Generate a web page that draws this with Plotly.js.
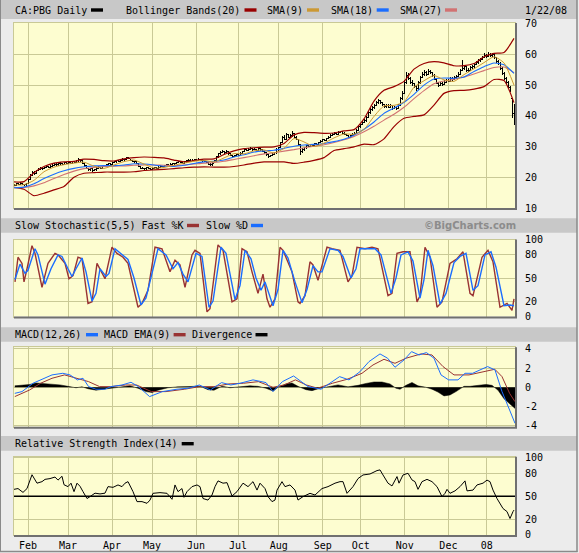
<!DOCTYPE html>
<html><head><meta charset="utf-8">
<script src="https://cdn.plot.ly/plotly-3.0.1.min.js"></script>
<style>html,body{margin:0;padding:0;background:#ececec;}#chart{width:579px;height:553px;}
.ohlclayer path,.trace.ohlc path{shape-rendering:crispEdges;}</style>
</head><body><div id="chart"></div>
<script>
// ---------- DATA (session index = trading day, 0 = 23 Jan 2007) ----------
const monthTicks  = [7, 27, 49, 69, 91, 112, 132.4, 154.4, 173.4, 195.4, 217.2, 236.4];
const monthLabels = ['Feb','Mar','Apr','May','Jun','Jul','Aug','Sep','Oct','Nov','Dec','08'];
const priceTicks = [10,20,30,40,50,60,70];
const oscTicks = [0,20,50,80,100];
const macdTicks = [-4,-2,0,2,4];
const macdTickText = ['-4','-2','0','2','4'];
const rsiRefLevel = 50;

const openP = [17.2,17.4,17.9,17.6,18.0,17.7,17.5,18.0,19.3,20.7,
21.5,21.3,22.1,22.5,23.0,22.8,23.1,23.5,23.3,23.6,
23.9,24.3,24.0,24.4,24.6,24.2,24.7,24.5,24.9,24.6,
25.0,24.8,25.3,25.9,25.3,24.6,23.7,22.9,22.4,22.8,
22.2,22.5,22.9,23.3,23.0,23.4,23.7,24.0,24.4,24.2,
24.7,25.0,25.4,25.2,25.6,25.9,25.7,26.3,26.0,25.6,
25.2,25.0,24.4,23.6,23.0,22.9,22.7,23.1,22.8,22.6,
23.0,23.2,22.9,23.3,23.6,23.4,23.7,24.1,23.9,24.2,
24.5,24.4,24.8,25.1,24.8,24.6,25.0,25.3,25.6,25.2,
25.5,25.8,25.4,25.9,25.6,25.3,25.1,24.7,24.3,24.0,
24.6,25.3,26.6,27.6,28.2,28.5,28.0,28.4,27.7,27.2,
26.9,27.1,27.4,27.2,27.8,28.3,28.9,28.6,29.1,29.4,
29.0,29.2,28.8,29.4,28.9,28.4,27.9,27.3,26.8,27.0,
27.4,27.9,29.0,29.6,31.2,33.0,32.4,33.8,33.1,33.5,
34.2,33.0,32.2,30.6,28.4,28.9,29.6,30.3,30.0,30.6,
30.4,30.9,30.6,31.2,31.8,32.3,32.0,32.6,33.1,33.7,
34.0,34.3,33.9,34.5,34.8,34.4,34.0,33.6,33.1,33.5,
34.0,34.4,35.3,36.4,37.2,37.9,38.4,39.6,41.0,42.1,
42.6,43.4,44.3,45.0,44.2,43.6,42.9,43.5,42.7,43.2,
42.4,42.8,42.3,43.5,45.6,47.4,50.8,53.0,52.2,51.0,
50.4,49.4,48.8,50.7,52.6,53.5,54.2,53.6,54.4,54.0,
53.2,51.9,50.6,49.9,50.5,50.2,51.0,51.6,51.3,52.1,
51.8,52.4,52.9,53.6,54.8,55.4,55.9,54.6,54.9,55.6,
56.0,56.7,57.4,57.9,58.3,59.1,59.7,59.3,60.1,59.6,
59.9,58.9,57.8,57.0,55.3,53.8,52.2,50.9,49.3,45.5,40.6];
const highP = [17.8,18.1,18.0,18.3,18.1,17.9,18.1,19.5,21.0,22.1,
21.9,22.3,22.9,23.5,23.2,23.4,24.0,23.7,23.9,24.3,
24.7,24.5,24.8,25.0,24.8,25.1,24.9,25.4,25.1,25.4,
25.3,25.6,26.3,26.0,25.5,24.8,23.9,23.1,23.1,22.9,
22.8,23.2,23.6,23.5,23.7,24.0,24.3,24.7,24.6,25.0,
25.3,25.7,25.6,25.9,26.2,26.1,26.7,26.5,26.1,25.7,
25.4,25.2,24.6,23.8,23.3,23.1,23.4,23.3,23.0,23.3,
23.5,23.4,23.6,23.9,23.8,24.0,24.4,24.3,24.5,24.8,
24.8,25.1,25.4,25.3,25.0,25.3,25.6,25.9,25.8,25.8,
26.1,26.0,26.2,26.1,25.8,25.5,25.3,24.9,24.6,24.9,
25.6,26.9,27.9,28.6,28.9,28.7,28.8,28.6,27.9,27.4,
27.4,27.7,27.6,28.1,28.6,29.2,29.1,29.5,29.8,29.6,
29.5,29.3,29.7,29.5,29.1,28.6,28.1,27.5,27.4,27.8,
28.3,29.4,30.0,31.6,33.5,33.6,34.3,34.2,34.0,35.1,
34.4,33.3,32.4,30.8,29.4,29.9,30.6,30.6,30.9,30.9,
31.2,31.1,31.5,32.1,32.6,32.5,32.9,33.5,34.1,34.4,
34.7,34.5,34.9,35.2,35.0,34.6,34.2,33.8,33.9,34.4,
34.8,35.7,36.9,37.7,38.4,38.9,40.1,41.5,42.7,43.2,
43.9,44.8,45.6,45.3,44.6,43.9,44.0,43.8,43.7,43.4,
43.3,43.0,44.0,46.2,48.1,51.6,54.2,53.8,52.7,51.6,
50.8,49.9,51.2,53.1,54.2,55.0,54.6,55.1,54.9,54.3,
53.5,52.3,51.0,51.0,50.9,51.5,52.1,52.0,52.6,52.5,
52.8,53.3,54.1,55.3,58.0,56.6,56.2,55.5,56.1,56.6,
57.1,57.8,58.4,58.8,59.6,60.3,60.1,60.7,60.4,60.5,
60.2,59.3,58.3,57.4,55.8,54.3,52.6,51.2,49.8,45.8,43.8];
const lowP = [17.0,17.3,17.4,17.5,17.5,17.2,17.3,17.9,19.1,20.4,
20.9,21.1,21.9,22.3,22.4,22.6,22.9,22.9,23.1,23.3,
23.7,23.7,23.8,24.1,23.9,24.0,24.2,24.3,24.3,24.4,
24.5,24.6,25.1,25.1,24.3,23.5,22.6,22.0,22.2,21.8,
21.9,22.2,22.7,22.8,22.8,23.2,23.5,23.8,23.9,24.0,
24.5,24.8,24.9,25.0,25.4,25.4,25.5,25.8,25.4,25.0,
24.7,24.2,23.4,22.8,22.6,22.4,22.5,22.6,22.3,22.5,
22.8,22.7,22.8,23.1,23.2,23.2,23.6,23.7,23.7,24.0,
24.1,24.2,24.6,24.6,24.3,24.4,24.8,25.1,25.0,25.0,
25.3,25.2,25.3,25.4,25.1,24.9,24.5,24.1,23.7,23.8,
24.5,25.1,26.4,27.3,27.9,27.7,27.8,27.4,26.9,26.5,
26.6,26.9,26.9,27.0,27.6,28.1,28.4,28.4,28.9,28.7,
28.8,28.5,28.6,28.6,28.1,27.6,27.0,26.3,26.5,26.8,
27.2,27.7,28.7,29.4,31.0,32.0,32.2,32.7,32.7,33.2,
32.7,32.0,30.3,27.3,28.0,28.6,29.3,29.7,29.8,30.0,
30.2,30.4,30.4,31.0,31.5,31.7,31.8,32.4,32.9,33.4,
33.8,33.6,33.7,34.3,34.1,33.7,33.3,32.8,32.8,33.3,
33.8,34.1,35.1,36.1,36.9,37.6,38.1,39.3,40.6,41.7,
42.3,43.1,44.0,43.9,43.3,42.5,42.6,42.4,42.4,41.9,
42.1,41.9,42.1,43.3,45.3,47.2,50.4,51.5,50.5,49.6,
48.9,48.0,48.5,50.4,52.3,53.1,53.1,53.3,53.5,52.7,
51.5,50.2,49.4,49.6,49.8,50.0,50.7,51.0,51.0,51.4,
51.5,52.1,52.6,53.3,54.5,55.0,54.1,54.3,54.6,55.3,
55.7,56.4,57.0,57.6,58.0,58.8,58.9,59.0,59.2,59.2,
58.5,57.3,56.6,54.9,53.3,51.8,50.4,48.8,47.6,39.4,37.0];
const closeP = [17.4,17.8,17.6,18.0,17.7,17.4,17.9,19.2,20.6,21.6,
21.2,22.0,22.6,23.1,22.7,23.0,23.6,23.2,23.5,23.9,
24.3,24.0,24.4,24.6,24.2,24.7,24.5,24.9,24.6,25.0,
24.8,25.3,25.9,25.4,24.6,23.7,22.9,22.4,22.8,22.2,
22.5,22.9,23.3,23.0,23.4,23.7,24.0,24.4,24.2,24.7,
25.0,25.4,25.2,25.6,25.9,25.7,26.3,26.0,25.6,25.2,
25.0,24.4,23.6,23.0,22.9,22.7,23.1,22.8,22.6,23.0,
23.2,22.9,23.3,23.6,23.4,23.7,24.1,23.9,24.2,24.5,
24.4,24.8,25.1,24.8,24.6,25.0,25.3,25.6,25.2,25.5,
25.8,25.4,25.9,25.6,25.3,25.1,24.7,24.3,24.0,24.6,
25.3,26.6,27.6,28.2,28.5,28.0,28.4,27.7,27.2,26.9,
27.1,27.4,27.2,27.8,28.3,28.9,28.6,29.1,29.4,29.0,
29.2,28.8,29.4,28.9,28.4,27.9,27.3,26.8,27.0,27.4,
27.9,29.0,29.6,31.2,33.0,32.4,33.8,33.1,33.5,34.2,
33.0,32.4,30.6,28.4,28.9,29.6,30.3,30.0,30.6,30.4,
30.9,30.6,31.2,31.8,32.3,32.0,32.6,33.1,33.7,34.0,
34.3,33.9,34.5,34.8,34.4,34.0,33.6,33.1,33.5,34.0,
34.4,35.3,36.4,37.2,37.9,38.4,39.6,41.0,42.1,42.6,
43.4,44.3,45.0,44.2,43.6,42.9,43.5,42.7,43.2,42.4,
42.8,42.3,43.5,45.6,47.4,50.8,53.0,52.2,51.0,50.4,
49.4,48.8,50.7,52.6,53.5,54.2,53.6,54.4,54.0,53.2,
51.9,50.6,49.9,50.5,50.2,51.0,51.6,51.3,52.1,51.8,
52.4,52.9,53.6,54.8,55.4,55.9,54.6,54.9,55.6,56.0,
56.7,57.4,57.9,58.3,59.1,59.7,59.3,60.1,59.6,59.9,
58.9,57.8,57.0,55.3,53.8,52.2,50.9,49.3,48.2,40.6,42.8];

const avgSessions = [0,5,10,15,20,25,30,35,40,45,50,55,60,65,70,75,80,85,90,95,100,105,110,115,120,125,130,135,140,145,150,155,160,165,170,175,180,185,190,195,200,205,210,215,220,225,230,235,240,245,250];
const bbUpper = [18.5,18.6,21.5,23.5,24.6,25.0,25.2,25.9,25.8,25.4,25.3,26.0,26.4,26.6,26.5,26.3,25.6,25.0,25.4,25.9,26.0,27.4,28.6,29.3,29.6,29.8,29.9,31.0,33.8,34.6,34.5,34.3,34.4,35.1,35.5,39.0,44.8,48.3,49.5,51.2,55.2,57.0,57.6,57.2,56.3,56.3,57.0,59.2,60.3,60.6,65.2];
const bbLower = [16.7,16.1,14.0,14.8,15.9,17.0,20.0,21.3,21.5,21.7,21.7,21.7,21.8,22.2,22.4,22.6,22.8,23.1,23.3,23.4,23.3,23.3,23.5,24.0,24.6,25.0,25.0,25.0,24.5,24.9,25.5,26.4,28.7,29.3,29.9,30.8,30.6,32.5,36.5,39.2,39.8,40.3,43.5,47.3,48.2,48.3,48.7,49.5,51.8,51.5,44.3];
const sma9 = [17.5,17.6,19.0,21.8,23.3,24.1,24.6,24.9,23.6,22.9,24.0,25.1,25.6,24.3,23.0,23.2,23.9,24.6,25.2,25.5,25.0,26.3,27.7,27.6,28.6,28.9,27.9,29.4,32.6,31.5,30.0,31.1,32.8,34.1,34.0,35.6,39.8,43.2,43.4,44.5,49.3,51.4,53.1,51.7,51.2,53.4,55.3,57.3,59.2,57.2,50.0];
const sma18 = [16.6,16.8,17.9,19.6,21.0,22.1,22.9,23.4,23.7,23.8,23.8,24.0,24.4,24.3,24.0,23.6,23.5,23.9,24.5,25.0,25.2,25.6,26.6,27.3,28.2,28.6,28.8,29.4,30.1,30.5,30.7,31.0,31.6,32.4,33.7,35.6,38.0,40.8,42.5,44.4,47.0,50.0,52.0,52.3,52.2,52.6,54.4,56.0,57.2,56.6,53.8];
const sma27 = [16.6,16.7,17.2,18.2,19.6,20.9,22.0,22.8,23.2,23.5,23.6,23.7,23.9,24.0,24.0,23.9,23.8,24.0,24.3,24.6,24.8,25.2,25.8,26.4,27.0,27.6,28.0,28.5,29.0,29.6,30.1,30.6,31.3,32.2,33.3,34.8,36.6,38.6,40.5,42.8,45.6,48.2,50.4,51.3,51.9,52.6,53.6,54.7,55.7,55.9,54.0];

const stochKx = [0.5,2,4,5,6.5,9,10.5,14,17,20.5,22,25.5,27.5,29.5,32,34,37,39,41.5,44,45.5,49,51.5,54.5,57,62,64,67,70.5,74,78,80.5,83,85.5,89,90.5,93,96.5,98,102,104.5,109,111.5,114,116.5,119,122,124.5,126.5,128,130.5,133,134.5,139,142,143,145.5,148,149.5,152,156.5,159,163,167,169,171.5,175.5,179,182,187,189,191.5,194.5,198,201.5,203,205.5,208,211.5,214,218,221.5,224.5,228,229.5,234,237,239.5,243,246.5,249,250];
const stochK = [45,77,69,45,62,92,82,38,69,82,80,69,49,53,77,75,17,19,69,56,49,90,82,77,69,12,17,34,90,88,58,73,67,38,80,86,82,6,10,93,86,19,23,88,84,58,30,55,23,12,23,90,86,58,19,17,27,71,67,47,90,88,86,45,53,90,88,90,88,27,30,82,84,84,19,27,90,77,12,19,69,75,84,30,27,77,86,71,12,17,8,23];
const stochDx = [0.5,3,5.5,7,10.5,12,15.5,18.5,22,24,27,29,31,34,36,39,41,43,46,47.5,50.5,54,57,60,63.5,66,68.5,72,76,79.5,82,84.5,87,91,94,97.5,99.5,103.5,106,110.5,113,115.5,118.5,121,123.5,125.5,129.5,132,134.5,137,140.5,144,146.5,149.5,152,154,158,162,164.5,168.5,171,173,177,180.5,183.5,188.5,191,193.5,197,199.5,203,205,207,209.5,213,216,220,223,226,229.5,232,235.5,238.5,241,245,248,250];
const stochD = [48,68,56,60,88,80,42,62,80,78,62,52,62,76,58,20,30,62,52,56,88,80,74,50,15,24,50,88,80,62,70,55,45,82,78,12,20,90,82,22,40,86,75,50,34,45,14,35,86,76,45,18,35,66,58,58,88,86,78,50,62,88,88,88,80,30,50,80,84,72,24,48,86,66,16,30,70,78,82,34,40,80,84,64,14,15,14];

const macdX = [0.4,4,9.5,13.3,19,24.4,28,31.7,34.5,37.3,41,45.5,48.5,54,58.5,62.2,67.8,74.2,81.5,87,92.7,98.2,103.8,108.4,113,119.5,126,129.5,134.2,139.8,142.5,147,153.5,158.2,162.8,167.5,173,177.5,183,186.8,190.5,195,198.8,202.5,206.2,210,213.5,217.3,222,225.5,229.3,233,236.8,240.5,244,247.8,250.5];
const macdLine = [-0.63,-0.45,0.42,0.77,1.29,1.46,1.29,0.77,0.94,0.07,-0.2,-0.2,0.07,0.24,0.52,0.07,-0.97,-0.45,-0.2,-0.1,0.24,-0.28,0.49,0.24,0.42,0.77,0.49,-0.45,0.59,1.18,0.77,0.07,-0.2,0.42,1.11,0.77,1.63,2.68,3.48,3.03,2.09,2.85,3.72,3.37,3.62,3.03,1.29,0.77,0.77,1.46,1.46,1.81,2.16,1.81,-0.45,-2.37,-3.76];
const emaX = [0.4,7.8,13.3,19,25.3,31.7,37.3,42.8,48.4,55.8,61.3,68.7,76,85.3,92.7,100,107.5,114.8,122.2,129.5,135,140.7,146.2,151.8,159.2,166.5,174,179.5,185,190.5,196,203.5,209,214.5,220,227.5,234.8,240.4,244,247.8,250.5];
const emaLine = [-0.97,-0.28,0.42,0.94,1.29,0.94,0.59,0.07,0.07,0.24,0.24,-0.45,-0.45,-0.2,0.07,0.07,0.35,0.42,0.59,0,0.24,0.77,0.24,-0.1,0.42,0.83,1.46,2.33,2.92,2.5,3.03,3.48,3.37,2.16,1.29,1.29,1.63,1.88,1.11,-0.63,-1.5];
const divX = [0.4,4,8,11,15,19,23,27,31,34,37,41,45,49,53,58,62,66,69,72,77,82,88,93,97,100,104,108,113,118,122,126,129.5,132,136,139,142,146,149,153,157,162,167,172,176,180,184,188,191,193,196,199,202,206,209,212,215,218,221,225,228,232,236,239,242,245,248,250.5];
const divergence = [0.15,0.2,0.3,0.45,0.4,0.35,0.25,0.1,-0.05,0.05,-0.15,-0.3,-0.2,-0.05,0.05,0.15,-0.1,-0.45,-0.55,-0.3,-0.05,0.05,0.08,0.12,-0.25,-0.3,0.12,-0.05,0.05,0.15,0.1,-0.1,-0.4,0.0,0.35,0.45,0.1,-0.25,-0.35,-0.1,0.05,0.25,0.05,0.2,0.4,0.55,0.55,0.35,-0.1,-0.2,0.2,0.5,0.15,0.0,-0.2,-0.5,-0.9,-0.8,-0.45,0.1,0.1,0.2,0.3,0.2,-0.3,-1.2,-1.8,-2.2];

const rsiX = [0,2,4.5,6.5,9,11.5,14,15.5,18,20.5,22,24,25,27,28.5,30,31.5,33,34.5,36.5,38,40.5,43,45.5,47,49.5,52,54,55.5,57,59.5,61.5,64,66.5,68,69.5,73,76.5,79,80.5,82,84,85,86.5,89,91.5,93,94.5,97,99,100.5,102,104.5,106.5,109,111.5,114.5,117,119.5,121.5,123,125.5,127,129,130.5,131.5,134,135.5,138,140.5,142,144.5,148,150.5,154,157,160.5,163,164.5,166.5,169.5,172,174.5,178,181.5,183,184.5,187,189,191.5,192.5,194.5,197,199,200.5,202,204,206.5,209,211.5,214,215.5,216.5,218,220.5,223,225.5,226.5,229.5,231.5,234.5,236.5,238,239.5,241.5,243,244.5,246.5,248,249.5,250];
const rsi = [59,60,55,60,78,67,69,72,73,75,71,76,65,62.5,67,56,67,63,56,47,49.5,54,53,54,62.5,61.6,64.7,62.5,67,69,56,43,43,40.8,45,53.8,54.7,53.8,46,64.7,56,60,48.6,56,62.5,64.7,62.5,47,45,51.6,62.5,70,67,67.7,50.3,56,67,62.5,69,58,67,60,49.5,43,45,58,69,62.5,64.7,58,45,49.5,53.8,51.6,60,62.5,67,69,69,53.8,62.5,73,77.7,79,83.4,84.3,77.7,67,63.4,75.6,67,77.7,79.9,71.2,69,59,69,72,69,62.5,49.5,53.8,59,53.8,57,62.5,70,57,58,64.7,67,71,69,58,47,40.8,34,30,21,30,32];

const sessions = closeP.map((_, i) => i);

// ---------- STYLE / LAYOUT ----------
const MONO = 'DejaVu Sans Mono';
const GRID = '#c9c996';
const C_BB = '#990000', C_S9 = '#cc9933', C_S18 = '#1a6dff', C_S27 = '#d27272', C_RED = '#993333';
const L = 14, R = 515, T = 23, B = 535, W = 579, H = 553;
const X = px => (px - L) / (R - L);
const Y = py => (B - py) / (B - T);
const panels = {
  price: [208, 23], stoch: [316.5, 239.5], macd: [426.7, 347.3], rsi: [535, 456.7]
};
const dom = p => [Y(panels[p][0]), Y(panels[p][1])];

function xax(anchor, labels) {
  return {domain:[0,1], range:[0,250.5], anchor, tickmode:'array', tickvals:monthTicks, ticktext:monthLabels,
    showticklabels:labels, ticks:'', showgrid:true, gridcolor:GRID, gridwidth:1, zeroline:false,
    showline:true, mirror:true, linecolor:GRID, linewidth:1, fixedrange:true,
    tickfont:{family:MONO, size:10, color:'#000'}, ticklabelstandoff:1};
}
function yax(anchor, p, range, tv, tt) {
  return {domain:dom(p), range, anchor, side:'right', tickmode:'array', tickvals:tv, ticktext:tt || tv.map(String),
    ticks:'', showgrid:true, gridcolor:GRID, gridwidth:1, zeroline:false,
    showline:true, mirror:true, linecolor:GRID, linewidth:1, fixedrange:true,
    tickfont:{family:MONO, size:10, color:'#000'}, ticklabelstandoff:7};
}

const line = (x, y, color, width, xa, ya, shape) => ({type:'scatter', mode:'lines', x, y, xaxis:xa, yaxis:ya,
  line:{color, width, shape: shape || 'linear', smoothing: 0.6}, hoverinfo:'skip', showlegend:false});

const data = [
  line(avgSessions, bbUpper, C_BB, 1.2, 'x', 'y', 'spline'),
  line(avgSessions, bbLower, C_BB, 1.2, 'x', 'y', 'spline'),
  line(avgSessions, sma27, C_S27, 1.1, 'x', 'y', 'spline'),
  line(avgSessions, sma18, C_S18, 1.1, 'x', 'y', 'spline'),
  line(avgSessions, sma9, C_S9, 1, 'x', 'y', 'spline'),
  {type:'ohlc', x:sessions, open:openP, high:highP, low:lowP, close:closeP, xaxis:'x', yaxis:'y',
   increasing:{line:{color:'#000', width:1}}, decreasing:{line:{color:'#000', width:1}},
   tickwidth:0.5, hoverinfo:'skip', showlegend:false},
  line(stochKx, stochK, C_RED, 1.4, 'x2', 'y2'),
  line(stochDx, stochD, C_S18, 1.4, 'x2', 'y2'),
  {type:'scatter', mode:'lines', x:divX, y:divergence, xaxis:'x3', yaxis:'y3', fill:'tozeroy',
   fillcolor:'#000', line:{color:'#000', width:0.5}, hoverinfo:'skip', showlegend:false},
  line(emaX, emaLine, C_RED, 1, 'x3', 'y3'),
  line(macdX, macdLine, C_S18, 1, 'x3', 'y3'),
  line(rsiX, rsi, '#000', 1, 'x4', 'y4')
];

// headers, swatches, frame
const shapes = [];
const annotations = [];
const rectPx = (x0, y0, x1, y1, fill, layer) => shapes.push({type:'rect', xref:'paper', yref:'paper',
  x0:X(x0), x1:X(x1), y0:Y(y1), y1:Y(y0), fillcolor:fill, line:{width:0}, layer: layer || 'above'});
const linePx = (x0, y0, x1, y1, color, w) => shapes.push({type:'line', xref:'paper', yref:'paper',
  x0:X(x0), x1:X(x1), y0:Y(y0), y1:Y(y1), line:{color, width:w}, layer:'above'});
const text = (t, x, y, opts) => annotations.push(Object.assign({text:t, xref:'paper', yref:'paper', x:X(x), y:Y(y),
  xanchor:'left', yanchor:'middle', showarrow:false, borderpad:0,
  font:{family:MONO, size:10, color:'#000'}}, opts || {}));

const headers = [[0,19,10],[218.3,232.7,225.5],[327.3,341.7,334.7],[436,450.7,443.7]];
headers.forEach(h => rectPx(1, h[0], 577, h[1], '#c8c8c8', 'below'));

const sw = (x0, yc, c) => rectPx(x0, yc - 1.7, x0 + 12, yc + 1.7, c);
let hy = headers[0][2];
text('CA:PBG Daily', 14, hy); sw(91, hy, '#000');
text('Bollinger Bands(20)', 125, hy); sw(244.5, hy, C_BB);
text('SMA(9)', 266, hy); sw(307, hy, C_S9);
text('SMA(18)', 330, hy); sw(376.7, hy, C_S18);
text('SMA(27)', 399, hy); sw(445, hy, C_S27);
text('1/22/08', 524, hy);
hy = headers[1][2];
text('Slow Stochastic(5,5) Fast %K', 14, hy); sw(187, hy, C_RED);
text('Slow %D', 204.5, hy); sw(251, hy, C_S18);
text('<b>©BigCharts.com</b>', 423, hy, {font:{family:'DejaVu Sans', size:10, color:'#8c8c8c'}});
hy = headers[2][2];
text('MACD(12,26)', 14, hy); sw(86, hy, C_S18);
text('MACD EMA(9)', 102.5, hy); sw(173.6, hy, C_RED);
text('Divergence', 190.5, hy); sw(255.5, hy, '#000');
hy = headers[3][2];
text('Relative Strength Index(14)', 14, hy); sw(181.7, hy, '#000');

// panel shadow edges (right & bottom)
Object.keys(panels).forEach(p => {
  const [b, t] = panels[p];
  linePx(516, t, 516, b + 1, '#707070', 2);
  linePx(L, b + 1, 517, b + 1, '#707070', 2);
});
// outer frame
linePx(0.5, 0, 0.5, 552, '#8a8a8a', 1);
linePx(577, 0, 577, 552, '#8a8a8a', 1.5);
linePx(0, 551.5, 577.5, 551.5, '#8a8a8a', 1.5);

// RSI reference level
shapes.push({type:'line', xref:'x4 domain', x0:0, x1:1, yref:'y4', y0:rsiRefLevel, y1:rsiRefLevel,
  line:{color:'#000', width:1.3}, layer:'above'});

const layout = {
  width:W, height:H, margin:{l:L, r:W-R, t:T, b:H-B, pad:0},
  paper_bgcolor:'#ececec', plot_bgcolor:'#fdfdd0', showlegend:false, hovermode:false,
  xaxis: Object.assign(xax('y', false), {rangeslider:{visible:false}}),
  xaxis2: xax('y2', false), xaxis3: xax('y3', false), xaxis4: xax('y4', true),
  yaxis: yax('x', 'price', [10, 70.2], priceTicks),
  yaxis2: yax('x2', 'stoch', [0, 100], oscTicks),
  yaxis3: yax('x3', 'macd', [-4.11, 4.17], macdTicks, macdTickText),
  yaxis4: yax('x4', 'rsi', [-0.5, 101.5], oscTicks),
  shapes, annotations
};
Plotly.newPlot('chart', data, layout, {staticPlot:true, displayModeBar:false});
</script></body></html>
